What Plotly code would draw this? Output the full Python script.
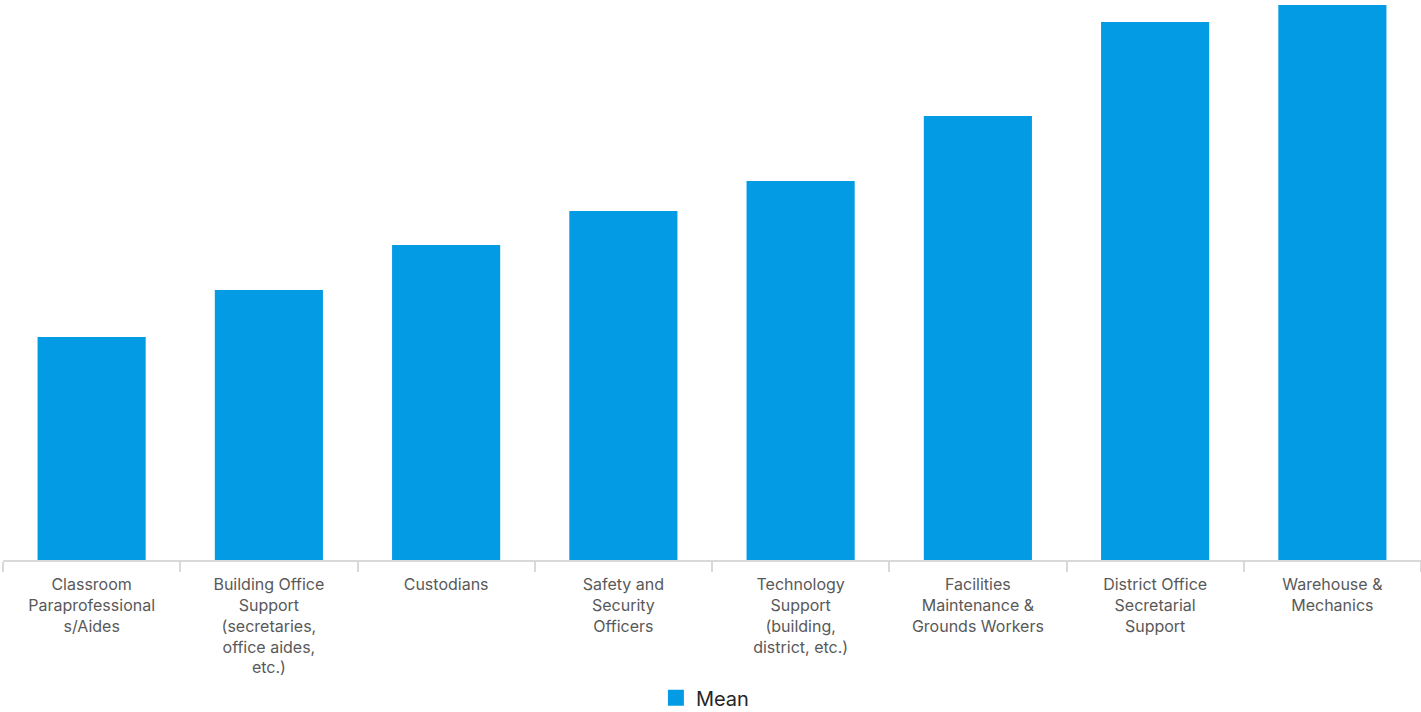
import plotly.graph_objects as go

# Job categories (wrapped for axis labels) and mean values
categories = [
    "Classroom<br>Paraprofessional<br>s/Aides",
    "Building Office<br>Support<br>(secretaries,<br>office aides,<br>etc.)",
    "Custodians",
    "Safety and<br>Security<br>Officers",
    "Technology<br>Support<br>(building,<br>district, etc.)",
    "Facilities<br>Maintenance &<br>Grounds Workers",
    "District Office<br>Secretarial<br>Support",
    "Warehouse &<br>Mechanics",
]
mean_values = [11.15, 13.5, 15.75, 17.45, 18.95, 22.2, 26.9, 27.75]

BAR_COLOR = "#049BE5"

fig = go.Figure()
fig.add_trace(
    go.Bar(
        x=categories,
        y=mean_values,
        name="Mean",
        marker=dict(color=BAR_COLOR, line=dict(width=0)),
        showlegend=False,
    )
)
# Legend entry with a larger square swatch
fig.add_trace(
    go.Scatter(
        x=[None],
        y=[None],
        mode="markers",
        name="Mean",
        marker=dict(symbol="square", size=17, color=BAR_COLOR),
        showlegend=True,
    )
)

fig.update_layout(
    width=1421,
    height=712,
    margin=dict(l=3, r=0, t=0, b=152, autoexpand=False),
    paper_bgcolor="white",
    plot_bgcolor="white",
    bargap=0.39,
    font=dict(family="Inter, sans-serif", color="#595959", size=16),
    showlegend=True,
    legend=dict(
        orientation="h",
        x=0.495,
        xanchor="center",
        y=-0.246,
        yanchor="middle",
        font=dict(size=20, color="#262626"),
        itemsizing="trace",
        itemwidth=30,
    ),
    xaxis=dict(
        automargin=False,
        showline=True,
        linecolor="#d9d9d9",
        linewidth=2,
        ticks="outside",
        tickson="boundaries",
        ticklen=10,
        tickcolor="#d9d9d9",
        tickwidth=2,
        ticklabelstandoff=9,
        tickfont=dict(family="Inter, sans-serif", size=16, color="#595959"),
        showgrid=False,
        fixedrange=True,
    ),
    yaxis=dict(
        automargin=False,
        range=[0, 28],
        visible=False,
        showgrid=False,
        zeroline=False,
        fixedrange=True,
    ),
)

fig.write_html("out.html")
